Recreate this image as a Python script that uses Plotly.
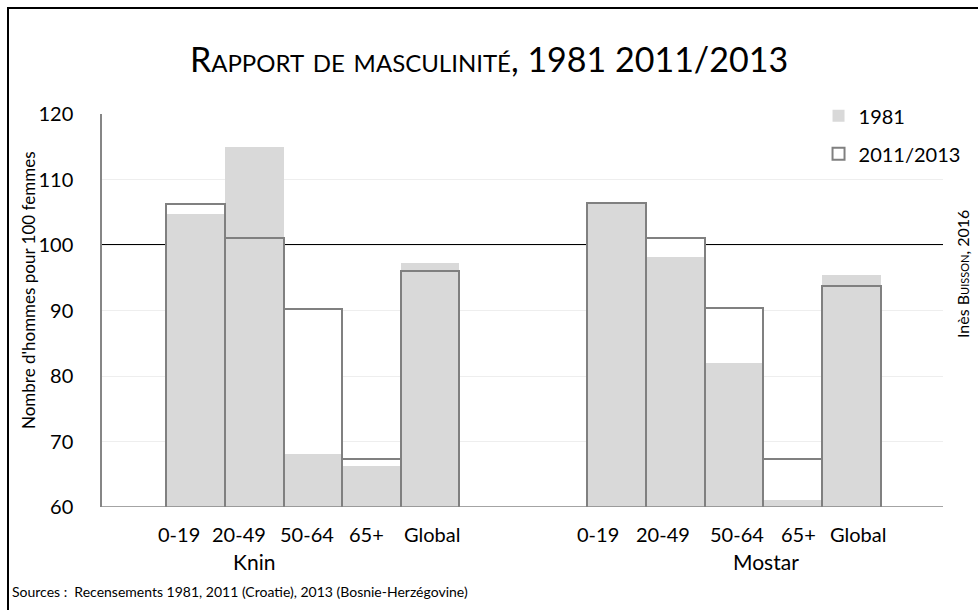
import plotly.graph_objects as go

# Categories
age_classes = ["0-19", "20-49", "50-64", "65+", "Global"]
towns = ["Knin", "Mostar"]

# Men per 100 women
knin_1981 = [104.7, 115.0, 68.1, 66.2, 97.2]
knin_2011 = [106.3, 101.0, 90.3, 67.3, 96.1]
mostar_1981 = [106.2, 98.1, 82.0, 61.1, 95.4]
mostar_2011 = [106.4, 101.1, 90.4, 67.4, 93.8]

y_ticks = [60, 70, 80, 90, 100, 110, 120]
parity = 100

# Layout of the two groups along a numeric x axis (one unit per bar)
group_offset = 7.18
n = len(age_classes)
x_pos = list(range(n)) + [group_offset + i for i in range(n)]
v1981 = knin_1981 + mostar_1981
v2011 = knin_2011 + mostar_2011

# Horizontal nudges (px) of the category labels, which are spread a bit wider than the bars
label_nudge = [-17, -15, -6, -5, 2, -19, -12, 3, 6, 7]

FONT = "Lato"
GREY_FILL = "#d9d9d9"
OUTLINE = "#808080"

fig = go.Figure()
# White body of the recent bars (masks gridlines / reference line)
fig.add_trace(go.Bar(x=x_pos, y=v2011, width=1, marker=dict(color="white", line=dict(width=0)),
                     showlegend=False, hoverinfo="skip"))
fig.add_trace(go.Bar(x=x_pos, y=v1981, width=1, name="1981",
                     marker=dict(color=GREY_FILL, line=dict(width=0)), legendgroup="a"))
fig.add_trace(go.Bar(x=x_pos, y=v2011, width=1, name="2011/2013",
                     marker=dict(color="rgba(0,0,0,0)", line=dict(color=OUTLINE, width=2)), legendgroup="b"))

fig.update_layout(
    barmode="overlay",
    width=978, height=610,
    margin=dict(l=102, r=35, t=114, b=103),
    paper_bgcolor="white", plot_bgcolor="white",
    font=dict(family=FONT, size=20, color="#000000"),
    title=dict(text="Rapport de masculinité, 1981 2011/2013", x=0.5, xanchor="center",
               y=1 - 60 / 610, yanchor="middle",
               font=dict(family=FONT, size=34, color="#000000", variant="small-caps")),
    legend=dict(x=0.852, y=1.045, xanchor="left", yanchor="top", bgcolor="rgba(0,0,0,0)",
                font=dict(size=20), tracegroupgap=9, itemwidth=30),
    xaxis=dict(range=[-1.596, 12.745], tickvals=x_pos, showticklabels=False,
               showgrid=False, zeroline=False, showline=False, ticks=""),
    yaxis=dict(range=[60, 120], tickvals=y_ticks, showgrid=True, gridcolor="#eeeeee", gridwidth=1,
               zeroline=False, showline=True, linecolor="#868686", linewidth=1.5,
               ticks="", ticklabelstandoff=23, tickfont=dict(size=20)),
    bargap=0,
)

# Axis baseline and the parity line (100 men per 100 women), beneath the bars
fig.add_shape(type="line", xref="paper", yref="y", x0=0, x1=1, y0=60, y1=60,
              line=dict(color="#868686", width=1.5), layer="above")
fig.add_shape(type="line", xref="paper", yref="y", x0=0, x1=1, y0=parity, y1=parity,
              line=dict(color="#000000", width=2), layer="below")

# Category labels under the bars
for xp, lab, dx in zip(x_pos, age_classes * 2, label_nudge):
    fig.add_annotation(x=xp, y=(507 - 534) / 393, xref="x", yref="paper", text=lab,
                       showarrow=False, xshift=dx, yanchor="middle", font=dict(size=20))

# Y axis title
fig.add_annotation(x=(28 - 102) / 841, y=(507 - 290) / 393, xref="paper", yref="paper",
                   text="Nombre d'hommes pour 100 femmes", textangle=-90, showarrow=False,
                   xanchor="center", yanchor="middle", font=dict(size=17))

# Town names under each group
fig.add_annotation(x=1, y=(507 - 561) / 393, xref="x", yref="paper", text=towns[0], showarrow=False,
                   font=dict(size=21), yanchor="middle")
fig.add_annotation(x=group_offset + 2.55, y=(507 - 561) / 393, xref="x", yref="paper", text=towns[1],
                   showarrow=False, font=dict(size=21), yanchor="middle")

# Sources
fig.add_annotation(x=(10 - 102) / 841, y=(507 - 591) / 393, xref="paper", yref="paper",
                   text="Sources :  Recensements 1981, 2011 (Croatie), 2013 (Bosnie-Herzégovine)",
                   showarrow=False, xanchor="left", yanchor="middle", font=dict(size=14))

# Author credit, vertical on the right
fig.add_annotation(x=(962 - 102) / 841, y=(507 - 274) / 393, xref="paper", yref="paper",
                   text="Inès B<span style='font-variant:small-caps'>uisson</span>, 2016",
                   textangle=-90, showarrow=False, xanchor="center", yanchor="middle",
                   font=dict(size=16))

# Frame
fig.add_shape(type="rect", xref="paper", yref="paper",
              x0=(8 - 102) / 841, x1=1.2, y0=-0.5, y1=(507 - 8) / 393,
              line=dict(color="#000000", width=2), fillcolor="rgba(0,0,0,0)", layer="above")

fig.write_html("out.html")
